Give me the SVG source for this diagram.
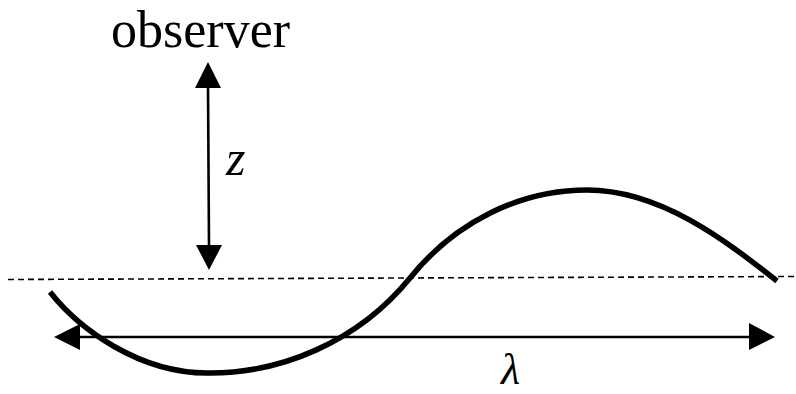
<svg xmlns="http://www.w3.org/2000/svg" width="796" height="394" viewBox="0 0 796 394">
<style>
.t{font-family:"Liberation Serif","Times New Roman",serif;fill:#000}
.i{font-style:italic}
.ln{stroke:#000;stroke-width:2.6;fill:none}
.hd{fill:#000}
</style>
<rect width="796" height="394" fill="#fff"/>
<g id="baseline">
<line x1="8" y1="279.5" x2="796" y2="276.5" stroke="#000" stroke-width="1.6" stroke-dasharray="6,4"/>
</g>
<g id="wave">
<path d="M50,292 C80,330 140,373 207,373 C280,374 358,342 410,278 C455,222 520,190 587,190 C660,190 725,240 777,281" fill="none" stroke="#000" stroke-width="5.5"/>
</g>
<g id="observer">
<text class="t" x="111" y="47" font-size="52">observer</text>
</g>
<g id="z-label">
<text class="t i" x="226" y="175" font-size="50">z</text>
</g>
<g id="lambda-label">
<text class="t i" x="501" y="384" font-size="44">λ</text>
</g>
<g id="connectors">
<line class="ln" x1="208" y1="86" x2="209" y2="247"/>
<polygon class="hd" points="208,62 195,88 221,88"/>
<polygon class="hd" points="209,270 196,245 222,245"/>
<line class="ln" x1="78" y1="337" x2="751" y2="337"/>
<polygon class="hd" points="54,337 80,324 80,350"/>
<polygon class="hd" points="775,337 749,323 749,350"/>
</g>
</svg>
